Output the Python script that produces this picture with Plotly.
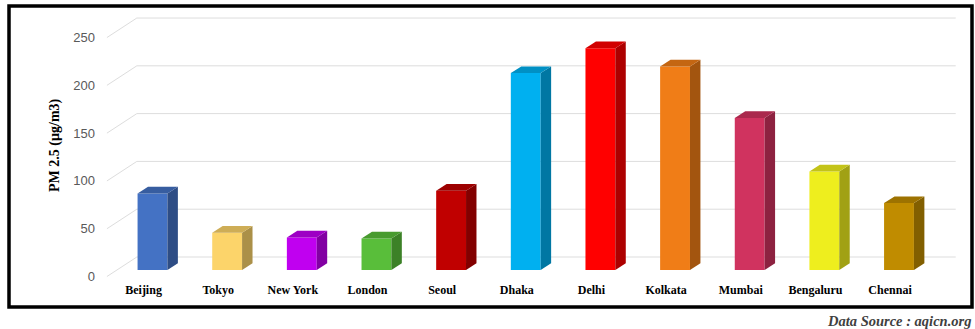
import plotly.graph_objects as go

# ---- data ----
cities = ["Beijing", "Tokyo", "New York", "London", "Seoul", "Dhaka",
          "Delhi", "Kolkata", "Mumbai", "Bengaluru", "Chennai"]
pm25 = [80, 39, 34, 33, 83, 206, 232, 213, 159, 103, 70]
front_colors = ["#4472C4", "#FCD46A", "#C000F0", "#59BE3A", "#C00000", "#00B0F0",
                "#FF0000", "#F07D17", "#D0335F", "#EEEE1E", "#C08C00"]
y_ticks = [0, 50, 100, 150, 200, 250]

# ---- geometry (style) ----
BAR_W = 0.40          # bar width in category units
DX, DY = 0.14, 7.0    # bar depth offset (x units, y units)
LABEL_DX, LABEL_DY = -0.12, -6.8   # front (label) plane offset
BACK_DX, BACK_DY = 0.28, 13.6      # back wall offset
GRID_X0, GRID_XB, GRID_X1 = -0.61, -0.21, 10.76

L, R, T, B = 100, 960, 12, 281
W, H = 975, 329
X_RANGE = [(L - 152.5) / 74.65, (R - 152.5) / 74.65]
Y_RANGE = [-11.5, 269.9]


def shade(hexcol, f):
    h = hexcol.lstrip("#")
    r, g, b = (int(h[i:i + 2], 16) for i in (0, 2, 4))
    return "#%02X%02X%02X" % (int(r * f), int(g * f), int(b * f))


def px_x(p):
    return (p - L) / (R - L)


def px_y(p):
    return (B - p) / (B - T)


fig = go.Figure()

# front faces
idx = list(range(len(cities)))
fig.add_trace(go.Bar(x=idx, y=pm25, width=BAR_W,
                     marker=dict(color=front_colors, line=dict(width=0)),
                     hoverinfo="skip", showlegend=False))

# side and top faces
for i, v in enumerate(pm25):
    xr = i + BAR_W / 2
    xl = i - BAR_W / 2
    fig.add_trace(go.Scatter(
        x=[xr, xr, xr + DX, xr + DX, xr], y=[0, v, v + DY, DY, 0],
        fill="toself", fillcolor=shade(front_colors[i], 0.68),
        mode="lines", line=dict(width=0), hoverinfo="skip", showlegend=False))
    fig.add_trace(go.Scatter(
        x=[xl, xr, xr + DX, xl + DX, xl], y=[v, v, v + DY, v + DY, v],
        fill="toself", fillcolor=shade(front_colors[i], 0.82),
        mode="lines", line=dict(width=0), hoverinfo="skip", showlegend=False))

# gridlines (floor diagonal + back wall)
shapes = []
for t in y_ticks:
    shapes.append(dict(type="line", xref="x", yref="y", layer="below",
                       x0=GRID_X0, y0=t + LABEL_DY, x1=GRID_XB, y1=t + BACK_DY,
                       line=dict(color="#DDDDDD", width=1)))
    shapes.append(dict(type="line", xref="x", yref="y", layer="below",
                       x0=GRID_XB, y0=t + BACK_DY, x1=GRID_X1, y1=t + BACK_DY,
                       line=dict(color="#DDDDDD", width=1)))

# outer frame
shapes.append(dict(type="rect", xref="paper", yref="paper",
                   x0=px_x(9), x1=px_x(972), y0=px_y(307), y1=px_y(6),
                   line=dict(color="black", width=3.5)))

fig.update_layout(
    width=W, height=H,
    margin=dict(l=L, r=W - R, t=T, b=H - B),
    paper_bgcolor="white", plot_bgcolor="white",
    shapes=shapes,
    showlegend=False,
    xaxis=dict(range=X_RANGE, showgrid=False, zeroline=False, showline=False,
               tickvals=[i + LABEL_DX for i in idx], ticktext=cities, ticks="",
               tickfont=dict(family="Liberation Serif", size=12, color="black",
                             weight="bold")),
    yaxis=dict(range=Y_RANGE, showgrid=False, zeroline=False, showline=False,
               tickvals=[t + LABEL_DY for t in y_ticks],
               ticktext=[str(t) for t in y_ticks], ticks="",
               ticklabelstandoff=4,
               tickfont=dict(family="Liberation Sans", size=13, color="#595959")),
    annotations=[
        dict(text="PM 2.5 (µg/m3)", xref="paper", yref="paper",
             x=px_x(55), y=px_y(145), textangle=-90, showarrow=False,
             xanchor="center", yanchor="middle",
             font=dict(family="Liberation Serif", size=14, color="black",
                       weight="bold")),
        dict(text="Data Source : aqicn.org", xref="paper", yref="paper",
             x=px_x(973), y=px_y(321), showarrow=False,
             xanchor="right", yanchor="middle",
             font=dict(family="Liberation Serif", size=14.5, color="#404040",
                       weight="bold", style="italic")),
    ],
)

fig.write_html("out.html")
